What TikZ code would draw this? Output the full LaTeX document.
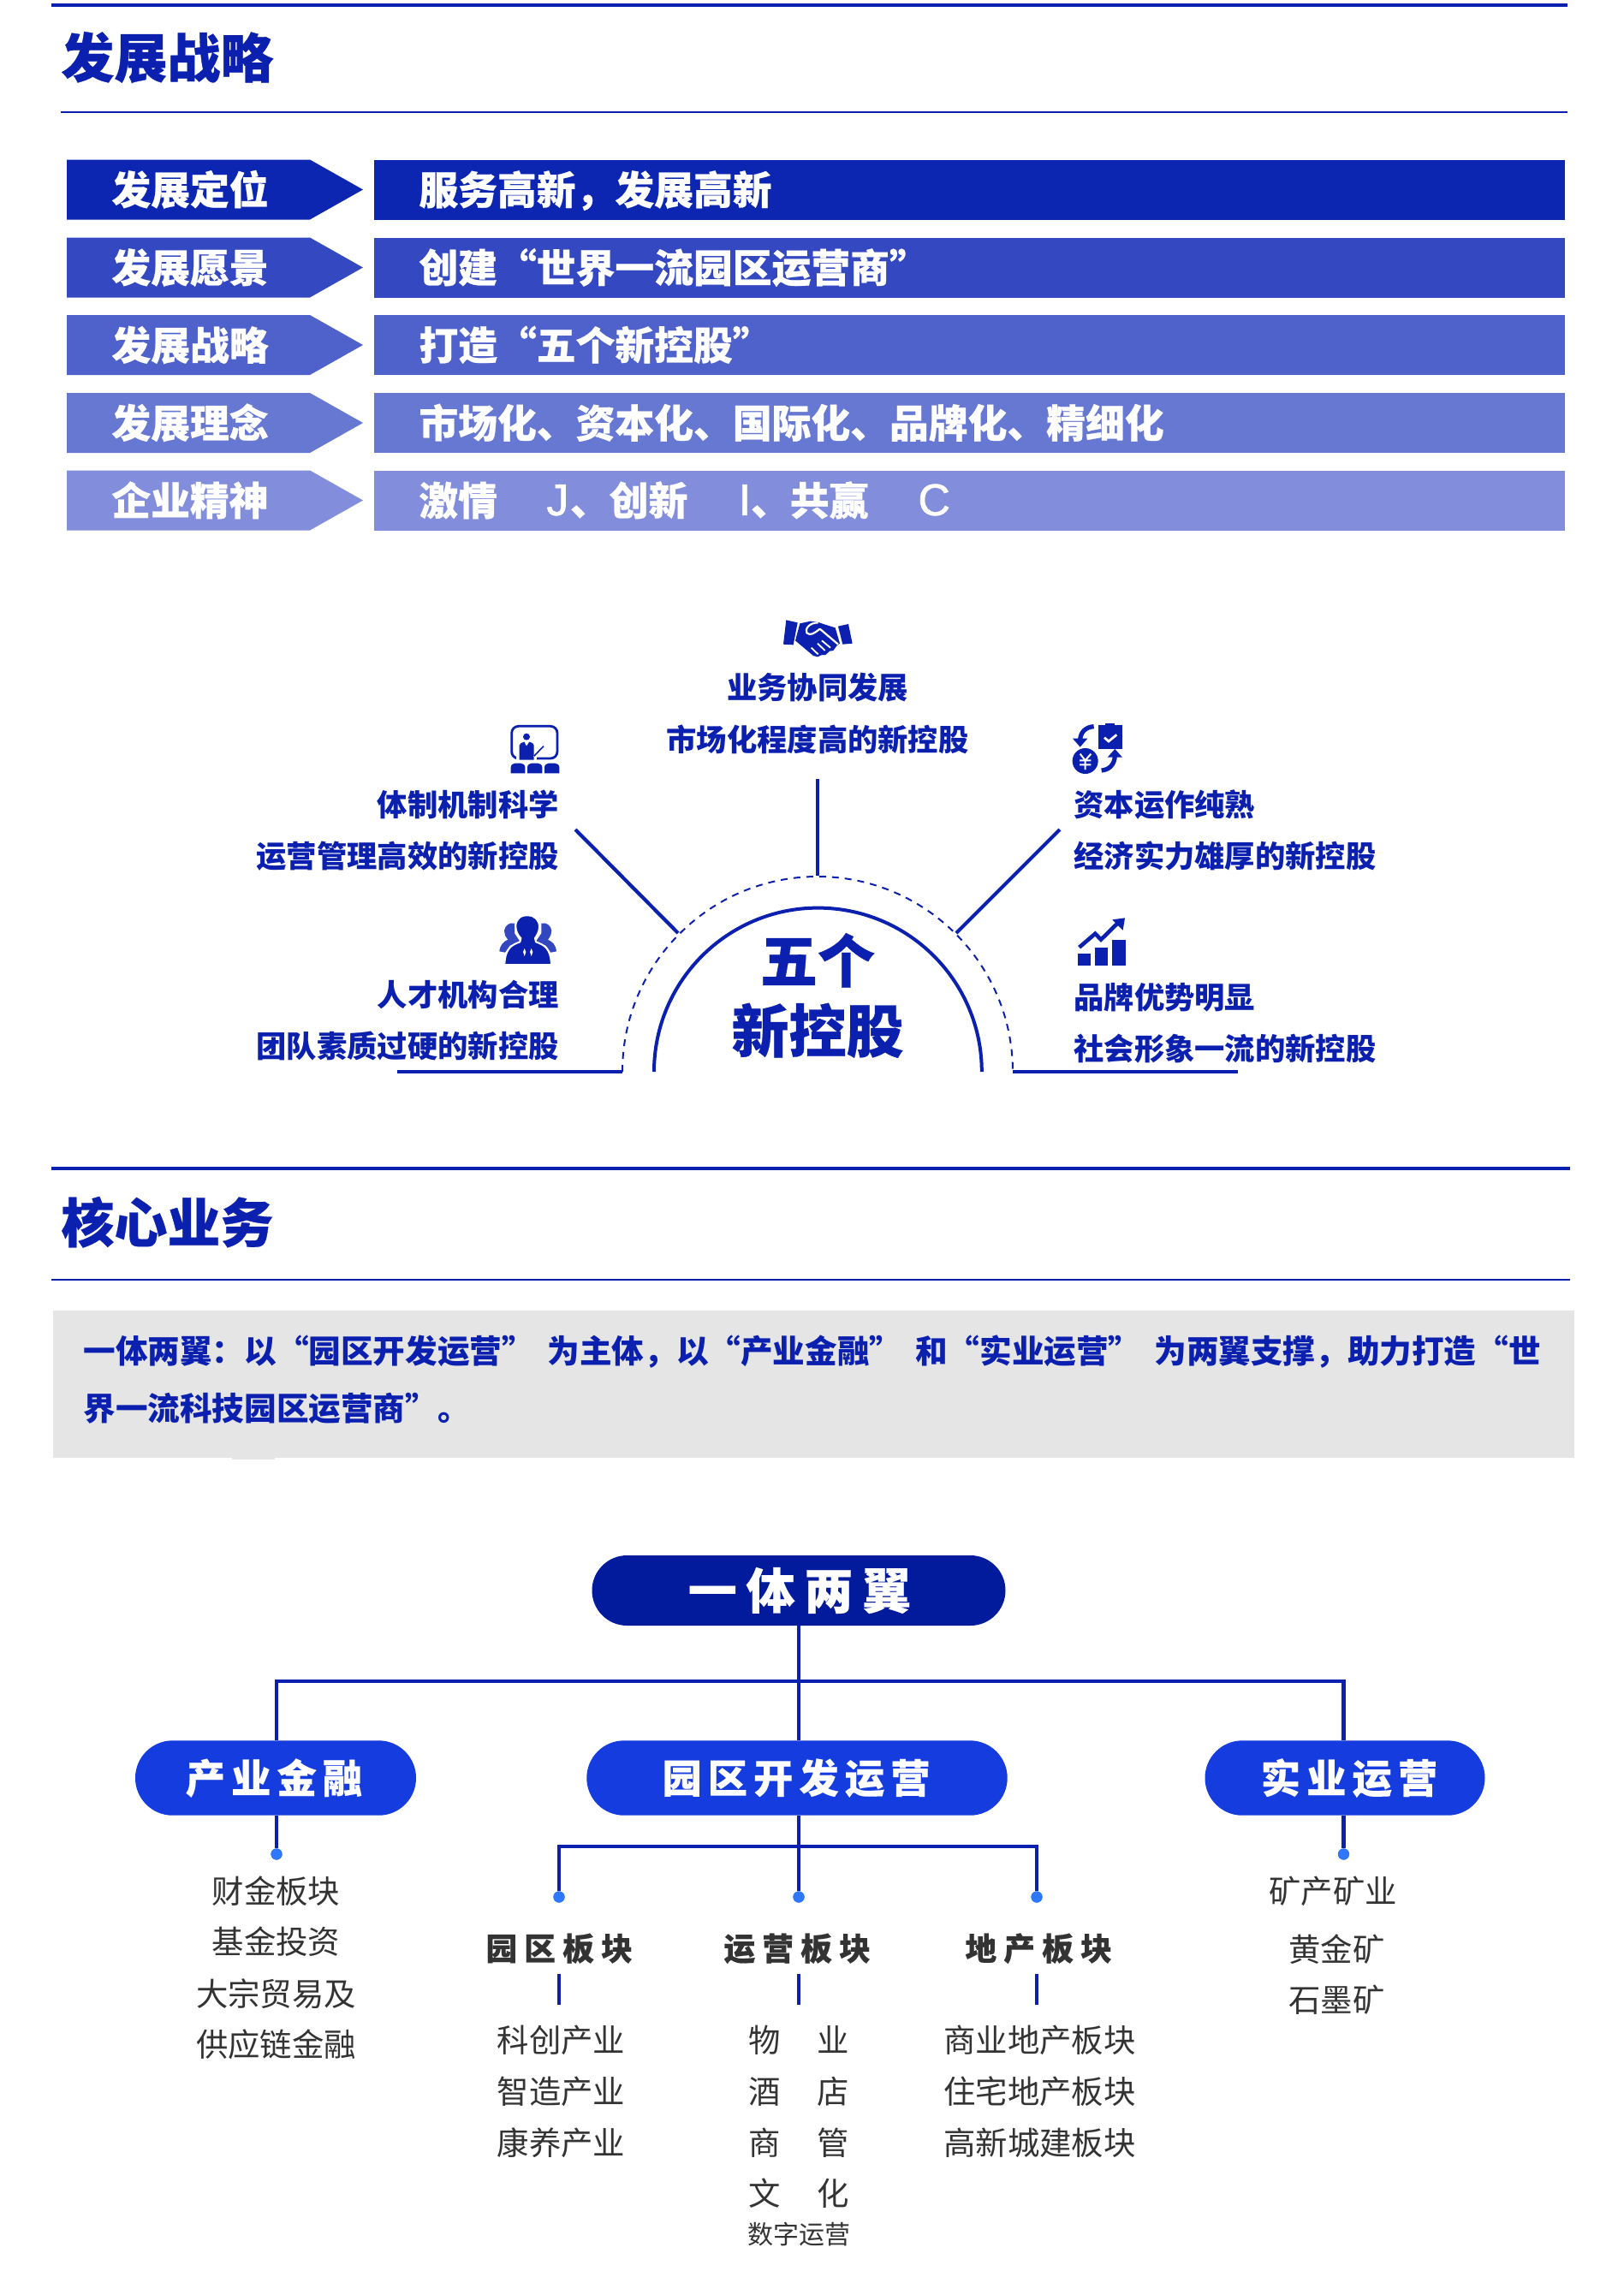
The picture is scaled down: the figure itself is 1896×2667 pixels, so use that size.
\documentclass[tikz,border=0pt]{standalone}
\usepackage{fontspec}
\setmainfont{Noto Sans CJK SC}
\newfontfamily\hv{Noto Sans CJK SC}[BoldFeatures={FakeBold=0.5}]
\newfontfamily\hvA{Noto Sans CJK SC}[BoldFeatures={FakeBold=0.4,LetterSpace=19}]
\newfontfamily\hvB{Noto Sans CJK SC}[BoldFeatures={FakeBold=0.3,LetterSpace=15}]
\newfontfamily\hvC{Noto Sans CJK SC}[BoldFeatures={FakeBold=0.3,LetterSpace=22}]
\newfontfamily\latn{Liberation Sans}[FakeBold=1.2]
\newcommand{\biglat}[1]{{\latn\mdseries\fontsize{26pt}{26pt}\selectfont #1}}
\definecolor{navy}{HTML}{0B20AE}
\definecolor{pillA}{HTML}{021A9C}
\definecolor{pillB}{HTML}{153CDF}
\definecolor{dotc}{HTML}{2F77FF}
\definecolor{ink}{HTML}{333333}
\definecolor{backp}{HTML}{3348C0}
\definecolor{barA}{HTML}{0C26B1}
\definecolor{barB}{HTML}{3448C1}
\definecolor{barC}{HTML}{4F62CB}
\definecolor{barD}{HTML}{6778D3}
\definecolor{barE}{HTML}{828EDC}
\definecolor{boxg}{HTML}{E5E5E6}
\tikzset{
  fz/.style={inner sep=0pt,text height=\fpeval{.88*#1}pt,text depth=\fpeval{.12*#1}pt,font=\fontsize{#1pt}{#1pt}\selectfont},
  secttl/.style={fz=31,text=navy,anchor=west,execute at begin node=\hv\bfseries},
  barl/.style={fz=22.9,text=white,anchor=west,execute at begin node=\hv\bfseries},
  midt/.style={fz=17.65,text=navy,execute at begin node=\bfseries},
  itemt/.style={fz=18.7,text=ink},
  subh/.style={fz=18.4,text=ink,anchor=west,execute at begin node=\hvC\bfseries},
  conn/.style={draw=navy,line width=2.1pt},
  pillb/.style={fill=pillB,rounded corners=21.8pt,minimum height=43.7pt,inner sep=0pt,text=white,font=\fontsize{23.2pt}{23.2pt}\selectfont,execute at begin node=\hvB\bfseries},
  dotn/.style={circle,fill=dotc,inner sep=0pt,minimum size=6.6pt},
  ruleA/.style={draw=navy,line width=1.9pt},
  ruleB/.style={draw=navy,line width=1.2pt},
  icon/.style={x=.16667pt,y=-.16667pt}
}
\begin{document}
\begin{tikzpicture}[x=.5pt,y=-.5pt]
\useasboundingbox[fill=white] (0,0) rectangle (1896,2667);
% section 1
\coordinate (r1a) at (60,6); \coordinate (r1b) at (1831,6);
\draw[ruleA] (r1a) -- (r1b);
\node[secttl] (title1) at (71,67) {发展战略};
\coordinate (r2a) at (71,131); \coordinate (r2b) at (1831,131);
\draw[ruleB] (r2a) -- (r2b);
% bars
\foreach \yt/\c/\nm/\lbl/\txt in {
 186.5/barA/a/发展定位/{服务高新，发展高新},
 277.5/barB/b/发展愿景/{创建“世界一流园区运营商”},
 368/barC/c/发展战略/{打造“五个新控股”},
 459/barD/d/发展理念/{市场化、资本化、国际化、品牌化、精细化},
 549.5/barE/e/企业精神/{激情\hspace{28.7pt}\biglat{J}\hspace{.8pt}、创新\hspace{29.6pt}\biglat{I}、共赢\hspace{29pt}\biglat{C}}}{
  \fill[\c] (78,\yt) -- (362,\yt) -- (424,\yt+35) -- (362,\yt+70) -- (78,\yt+70) -- cycle;
  \fill[\c] (437,\yt) rectangle (1828,\yt+70);
  \node[barl] (l\nm) at (130,\yt+35) {\lbl};
  \node[barl] (t\nm) at (489,\yt+35) {\txt};
}
% middle section icons
\begin{scope}[shift={(905,710)},icon]
 \fill[navy] (40,43) -- (80,52) -- (65,130) -- (30,128) -- cycle;
 \fill[navy] (222,65) -- (258,57) -- (272,125) -- (238,128) -- cycle;
 \fill[navy] (88,55) -- (125,47) -- (150,50) -- (180,60) -- (212,70) -- (228,125) -- (218,132) -- (205,150) -- (192,152) -- (178,165) -- (165,165) -- (150,172) -- (135,168) -- (72,115) -- cycle;
 \draw[white,line width=1.1pt,line join=round] (152,52) .. controls (120,52) and (105,75) .. (112,88) .. controls (125,100) and (140,88) .. (158,74) -- (222,128);
 \draw[white,line width=.9pt] (128,140) -- (152,163);
 \draw[white,line width=.9pt] (150,125) -- (176,150);
 \draw[white,line width=.9pt] (165,115) -- (195,140);
\end{scope}
\begin{scope}[shift={(585,840)},icon]
 \draw[navy,line width=1.4pt,rounded corners=4pt] (38,25) rectangle (198,138);
 \fill[white] (55,85) rectangle (125,145);
 \fill[navy] (90,62) circle[radius=2pt];
 \fill[navy] (65,92) .. controls (65,85) and (75,82) .. (82,80) -- (90,95) -- (100,80) .. controls (108,82) and (116,85) .. (116,92) -- (116,143) -- (65,143) -- cycle;
 \draw[white,line width=.9pt] (116,132) -- (150,97);
 \draw[navy,line width=.8pt] (116,130) -- (150,95);
 \foreach \xa/\xb in {35/85,93/145,153/205}{
   \fill[navy] (\xa,190) -- (\xa,170) .. controls (\xa,160) and (\xa+8,155) .. (\xa+15,155) -- (\xb-15,155) .. controls (\xb-8,155) and (\xb,160) .. (\xb,170) -- (\xb,190) -- cycle;
 }
\end{scope}
\begin{scope}[shift={(575,1062)},icon]
 \fill[backp] (42,75) .. controls (45,58) and (60,45) .. (78,50) -- (78,85) -- (98,115) -- (62,128) -- (45,152) -- (25,148) .. controls (28,125) and (38,115) .. (55,107) .. controls (45,95) and (42,85) .. (42,75) -- cycle;
 \fill[backp] (208,75) .. controls (205,58) and (190,45) .. (172,50) -- (172,85) -- (152,115) -- (188,128) -- (205,152) -- (225,148) .. controls (222,125) and (212,115) .. (195,107) .. controls (205,95) and (208,85) .. (208,75) -- cycle;
 \filldraw[draw=white,line width=1pt,fill=navy] (82,60) .. controls (82,35) and (100,20) .. (125,22) .. controls (150,22) and (165,40) .. (165,62) .. controls (165,80) and (155,95) .. (150,102) -- (153,115) .. controls (180,125) and (205,135) .. (207,195) -- (43,195) .. controls (45,135) and (70,125) .. (97,115) -- (100,102) .. controls (90,92) and (82,78) .. (82,60) -- cycle;
 \fill[white] (113,138) -- (118,150) -- (113,165) -- (108,150) -- cycle;
 \fill[white] (137,138) -- (142,150) -- (137,165) -- (132,150) -- cycle;
\end{scope}
\begin{scope}[shift={(1245,840)},icon]
 \fill[navy] (68,147) circle[radius=7.5pt];
 \draw[white,line width=1pt] (50,122) -- (68,145) -- (88,122) (68,145) -- (68,177) (48,145) -- (88,145) (48,160) -- (88,160);
 \draw[navy,line width=2.6pt] (98,26) .. controls (70,28) and (52,45) .. (50,72);
 \fill[navy] (24,68) -- (76,68) -- (50,98) -- cycle;
 \fill[navy] (113,22) rectangle (197,105);
 \fill[navy] (138,15) rectangle (170,22);
 \draw[white,line width=1.4pt] (135,65) -- (150,78) -- (178,55);
 \draw[navy,line width=2.6pt] (125,180) .. controls (152,178) and (170,160) .. (172,130);
 \fill[navy] (146,134) -- (198,134) -- (172,105) -- cycle;
\end{scope}
\begin{scope}[shift={(1250,1065)},icon]
 \fill[navy] (27,147) rectangle (73,188);
 \fill[navy] (88,127) rectangle (133,188);
 \fill[navy] (148,98) rectangle (194,188);
 \draw[navy,line width=2.3pt] (32,125) -- (88,77) -- (108,98) -- (165,42);
 \fill[navy] (148,28) -- (192,22) -- (185,65) -- cycle;
\end{scope}
% middle section texts
\node[midt] (m1) at (955,803.5) {业务协同发展};
\node[midt] (m2) at (955,864) {市场化程度高的新控股};
\node[midt,anchor=east] (m3) at (653,940.5) {体制机制科学};
\node[midt,anchor=east] (m4) at (653,1000) {运营管理高效的新控股};
\node[midt,anchor=east] (m5) at (653,1162) {人才机构合理};
\node[midt,anchor=east] (m6) at (653,1222) {团队素质过硬的新控股};
\node[midt,anchor=west] (m7) at (1254,940.5) {资本运作纯熟};
\node[midt,anchor=west] (m8) at (1254,1000) {经济实力雄厚的新控股};
\node[midt,anchor=west] (m9) at (1254,1165) {品牌优势明显};
\node[midt,anchor=west] (m10) at (1254,1225) {社会形象一流的新控股};
\node[fz=33.5,text=navy,execute at begin node=\hv\bfseries] (c1) at (955,1122) {五个};
\node[fz=33.5,text=navy,execute at begin node=\hv\bfseries] (c2) at (955,1204) {新控股};
% arcs and spokes
\coordinate (arcO) at (727,1252);
\coordinate (arcI) at (764,1252);
\draw[navy,line width=1pt,dash pattern=on 4pt off 3.5pt] (arcO) arc[start angle=180,end angle=0,radius=114pt];
\draw[navy,line width=2pt] (arcI) arc[start angle=180,end angle=0,radius=95.7pt];
\coordinate (s1a) at (955,910); \coordinate (s1b) at (955,1023);
\coordinate (s2a) at (672,969); \coordinate (s2b) at (792,1090);
\coordinate (s3a) at (1238,969); \coordinate (s3b) at (1117,1090);
\coordinate (s4a) at (464,1252); \coordinate (s4b) at (727,1252);
\coordinate (s5a) at (1183,1252); \coordinate (s5b) at (1446,1252);
\draw[conn] (s1a) -- (s1b);
\draw[conn] (s2a) -- (s2b);
\draw[conn] (s3a) -- (s3b);
\draw[conn] (s4a) -- (s4b);
\draw[conn] (s5a) -- (s5b);
% section 2
\coordinate (r3a) at (60,1365); \coordinate (r3b) at (1834,1365);
\draw[ruleA,line width=2.3pt] (r3a) -- (r3b);
\node[secttl] (title2) at (71,1428) {核心业务};
\coordinate (r4a) at (60,1494.5); \coordinate (r4b) at (1834,1494.5);
\draw[ruleB,line width=1pt] (r4a) -- (r4b);
\fill[boxg] (62,1531) rectangle (1839,1703);
\fill[boxg] (271,1703) rectangle (321,1705);
\node[inner sep=0pt,text=navy,anchor=west,align=left,font=\fontsize{18.8pt}{33.5pt}\selectfont,execute at begin node=\bfseries] (intro) at (97,1611.5) {一体两翼：以“园区开发运营”\hspace{8pt}为主体，以“产业金融”\hspace{8pt}和“实业运营”\hspace{8pt}为两翼支撑，助力打造“世\\界一流科技园区运营商”。};
% org chart
\node[fill=pillA,rounded corners=20.5pt,minimum width=241.5pt,minimum height=41pt,inner sep=0pt,text=white,font=\fontsize{28.5pt}{28.5pt}\selectfont,execute at begin node=\hvA\bfseries] (top) at (933,1858) {\raisebox{1pt}{\hspace*{1pt}一体两翼}};
\node[pillb,minimum width=164pt] (cy) at (322,2077) {\hspace*{-2pt}产业金融};
\node[pillb,minimum width=245.7pt] (yq) at (931,2077) {\hspace*{-1pt}园区开发运营};
\node[pillb,minimum width=163.5pt] (sy) at (1571,2077) {\hspace*{5pt}实业运营};
\coordinate (j1) at (933,1964);
\coordinate (j2) at (933,2157);
\node[dotn] (d1) at (323,2166) {};
\node[dotn] (d5) at (1569.5,2166) {};
\node[dotn] (d2) at (653,2216) {};
\node[dotn] (d3) at (933,2216) {};
\node[dotn] (d4) at (1211,2216) {};
\draw[conn] (top.south) -- (top.south |- yq.north);
\draw[conn] (d1 |- cy.north) |- (j1) -| (d5 |- sy.north);
\draw[conn] (d1 |- cy.south) -- (d1);
\draw[conn] (d5 |- sy.south) -- (d5);
\draw[conn] (d3 |- yq.south) -- (d3);
\draw[conn] (d2) |- (j2) -| (d4);
\node[dotn] at (d1) {};
\node[dotn] at (d2) {};
\node[dotn] at (d3) {};
\node[dotn] at (d4) {};
\node[dotn] at (d5) {};
\node[subh] (h1) at (567,2276) {园区板块};
\node[subh] (h2) at (845,2276) {运营板块};
\node[subh] (h3) at (1127,2276) {地产板块};
\foreach \nm/\xx in {a/653,b/933,c/1211}{
  \coordinate (tk\nm1) at (\xx,2306); \coordinate (tk\nm2) at (\xx,2342);
  \draw[conn] (tk\nm1) -- (tk\nm2);
}
\node[itemt] (i1) at (322.5,2209) {财金板块};
\node[itemt] (i2) at (322.5,2268) {基金投资};
\node[itemt] (i3) at (322.5,2329) {大宗贸易及};
\node[itemt] (i4) at (322.5,2388) {供应链金融};
\node[itemt] (i5) at (655.5,2383.5) {科创产业};
\node[itemt] (i6) at (655.5,2443) {智造产业};
\node[itemt] (i7) at (655.5,2503) {康养产业};
\node[itemt] (i8) at (933,2383.5) {物\hspace{21.5pt}业};
\node[itemt] (i9) at (933,2443) {酒\hspace{21.5pt}店};
\node[itemt] (i10) at (933,2503) {商\hspace{21.5pt}管};
\node[itemt] (i11) at (933,2562) {文\hspace{21.5pt}化};
\node[fz=15,text=ink] (i12) at (933,2610) {数字运营};
\node[itemt] (i13) at (1214.5,2383.5) {商业地产板块};
\node[itemt] (i14) at (1214.5,2443) {住宅地产板块};
\node[itemt] (i15) at (1214.5,2503) {高新城建板块};
\node[itemt] (i16) at (1557,2209) {矿产矿业};
\node[itemt] (i17) at (1561.5,2277) {黄金矿};
\node[itemt] (i18) at (1561.5,2336) {石墨矿};
\end{tikzpicture}
\end{document}
